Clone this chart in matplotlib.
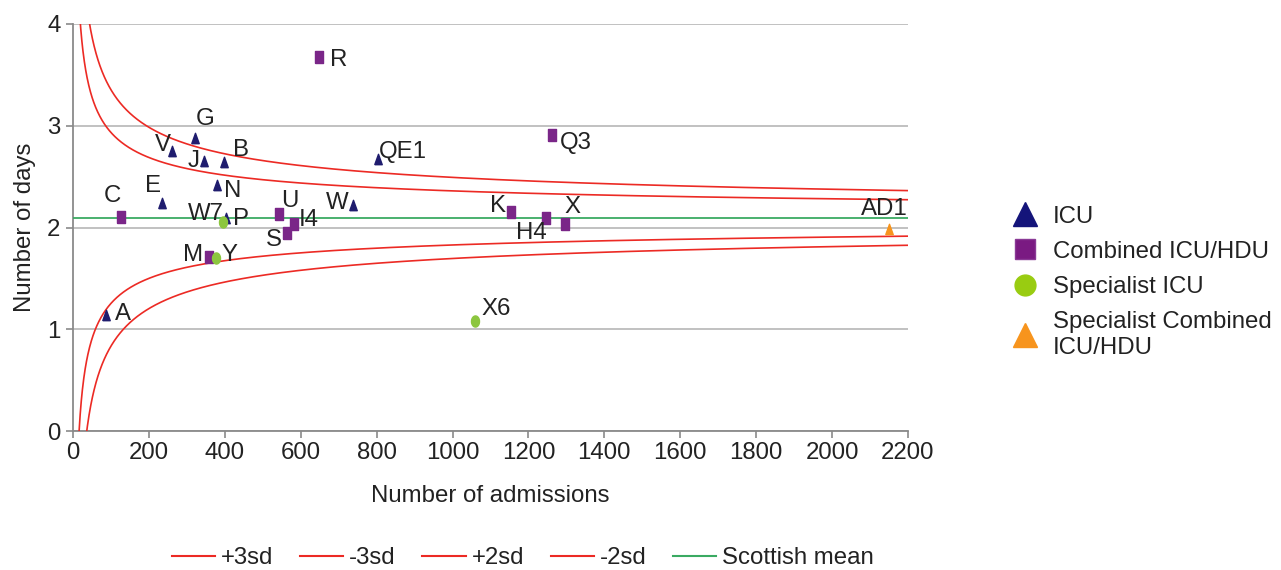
import numpy as np
import matplotlib
matplotlib.use("Agg")
import matplotlib.pyplot as plt
from matplotlib.lines import Line2D

plt.rcParams['font.family'] = ['Liberation Sans', 'DejaVu Sans']

# ---------------- data ----------------
icu_names = ["G", "V", "J", "B", "N", "E", "P", "W", "QE1", "A"]
icu_adm = [321, 261, 346, 399, 379, 235, 402, 738, 804, 86]
icu_days = [2.88, 2.75, 2.65, 2.64, 2.42, 2.24, 2.09, 2.22, 2.67, 1.14]

comb_names = ["R", "C", "U", "I4", "S", "K", "H4", "X", "Q3", "M"]
comb_adm = [649, 127, 543, 583, 563, 1154, 1246, 1296, 1263, 359]
comb_days = [3.68, 2.10, 2.13, 2.03, 1.95, 2.15, 2.09, 2.03, 2.91, 1.71]

spec_names = ["W7", "Y", "X6"]
spec_adm = [395, 378, 1059]
spec_days = [2.05, 1.70, 1.08]

specc_names = ["AD1"]
specc_adm = [2149]
specc_days = [1.99]

scottish_mean = 2.094
unit_sd = 4.2
sd_multipliers = [3, -3, 2, -2]
limit_labels = ["+3sd", "-3sd", "+2sd", "-2sd"]

x_ticks = [0, 200, 400, 600, 800, 1000, 1200, 1400, 1600, 1800, 2000, 2200]
y_ticks = [0, 1, 2, 3, 4]

# ---------------- layout (label offsets in pixels: dx, dy up) ----------------
label_offsets = {
    "R": (19, -3), "G": (10, 19), "V": (-9, 6), "J": (-11, 0), "B": (17, 12),
    "N": (16, -6), "E": (-9, 17), "C": (-9, 21), "W7": (-17, 8), "P": (15, -1),
    "U": (11, 13), "I4": (14, 4), "S": (-13, -7), "W": (-16, 2), "QE1": (25, 7),
    "K": (-13, 6), "H4": (-15, -15), "X": (8, 17), "Q3": (23, -8), "AD1": (-4, 20),
    "X6": (21, 12), "M": (-16, 2), "Y": (13, 3), "A": (17, 1),
}

c_icu = "#1f1c6e"
c_comb = "#7a2688"
c_spec = "#8cc63f"
c_specc = "#f7941d"
c_red = "#ec2a24"
c_green = "#3aaa62"
c_grid = "#bcbcbc"
c_axis = "#8a8a8a"
c_text = "#222222"
FS = 17.3

tri_tall = [(-0.72, -1), (0.72, -1), (0, 1), (-0.72, -1)]
rect_tall = [(-0.68, -1), (0.68, -1), (0.68, 1), (-0.68, 1), (-0.68, -1)]
theta = np.linspace(0, 2 * np.pi, 40)
ell_tall = list(zip(0.72 * np.cos(theta), np.sin(theta)))

fig = plt.figure(figsize=(12.81, 5.70), dpi=100)
ax = fig.add_axes([73 / 1281, 1 - 431 / 570, (908 - 73) / 1281, (431 - 24) / 570])

# control limits
n = np.linspace(5, 2200, 3000)
for k, lab in zip(sd_multipliers, limit_labels):
    ax.plot(n, scottish_mean + k * unit_sd / np.sqrt(n), color=c_red, lw=1.2, label=lab, zorder=3)
ax.plot([0, 2200], [scottish_mean, scottish_mean], color=c_green, lw=1.3, label="Scottish mean", zorder=3)

ax.plot(icu_adm, icu_days, ls="none", marker=tri_tall, ms=7.5, color=c_icu, mec=c_icu, zorder=5)
ax.plot(comb_adm, comb_days, ls="none", marker=rect_tall, ms=8.5, color=c_comb, mec=c_comb, zorder=5)
ax.plot(spec_adm, spec_days, ls="none", marker=ell_tall, ms=8, color=c_spec, mec=c_spec, zorder=5)
ax.plot(specc_adm, specc_days, ls="none", marker=tri_tall, ms=7.5, color=c_specc, mec=c_specc, zorder=5)

for names, xs, ys in [(icu_names, icu_adm, icu_days), (comb_names, comb_adm, comb_days),
                      (spec_names, spec_adm, spec_days), (specc_names, specc_adm, specc_days)]:
    for nm, xv, yv in zip(names, xs, ys):
        dx, dy = label_offsets[nm]
        ax.annotate(nm, (xv, yv), xytext=(dx, dy), textcoords="offset pixels",
                    ha="center", va="center", fontsize=FS, color=c_text, zorder=6)

ax.set_xlim(0, 2200)
ax.set_ylim(0, 4)
ax.set_xticks(x_ticks)
ax.set_yticks(y_ticks)
ax.yaxis.grid(True, color=c_grid, lw=1.3)
ax.set_axisbelow(True)
for s in ["top", "right"]:
    ax.spines[s].set_visible(False)
for s in ["left", "bottom"]:
    ax.spines[s].set_color(c_axis)
    ax.spines[s].set_linewidth(1.3)
ax.tick_params(axis="both", colors=c_axis, labelcolor=c_text, labelsize=FS, length=5, width=1.2)
ax.tick_params(axis="x", pad=3)
ax.tick_params(axis="y", pad=4)
ax.set_xlabel("Number of admissions", fontsize=FS, color=c_text, labelpad=15)
ax.set_ylabel("Number of days", fontsize=FS, color=c_text, labelpad=8)

# bottom legend
line_handles = [Line2D([], [], color=c_red, lw=1.5) for _ in limit_labels] + \
               [Line2D([], [], color=c_green, lw=1.5)]
leg1 = fig.legend(line_handles, limit_labels + ["Scottish mean"], loc="center",
                  bbox_to_anchor=(523 / 1281, 1 - 558 / 570), ncol=5, frameon=False,
                  fontsize=FS, handlelength=1.8, handletextpad=0.25, columnspacing=1.1,
                  labelcolor=c_text)

# right legend
mk_handles = [
    Line2D([], [], ls="none", marker="^", ms=17, color="#14147a"),
    Line2D([], [], ls="none", marker="s", ms=15, color="#7a1a82", mec="#8a3a96"),
    Line2D([], [], ls="none", marker="o", ms=15, color="#99cc11"),
    Line2D([], [], ls="none", marker="^", ms=17, color=c_specc),
]
leg2 = fig.legend(mk_handles, ["ICU", "Combined ICU/HDU", "Specialist ICU", "Specialist Combined\nICU/HDU"],
                  loc="upper left", bbox_to_anchor=(989 / 1281, 1 - 184 / 570), frameon=False,
                  fontsize=FS, handlelength=1.2, handletextpad=0.55, labelspacing=0.55,
                  labelcolor=c_text)

fig.savefig("out.png", dpi=100)
